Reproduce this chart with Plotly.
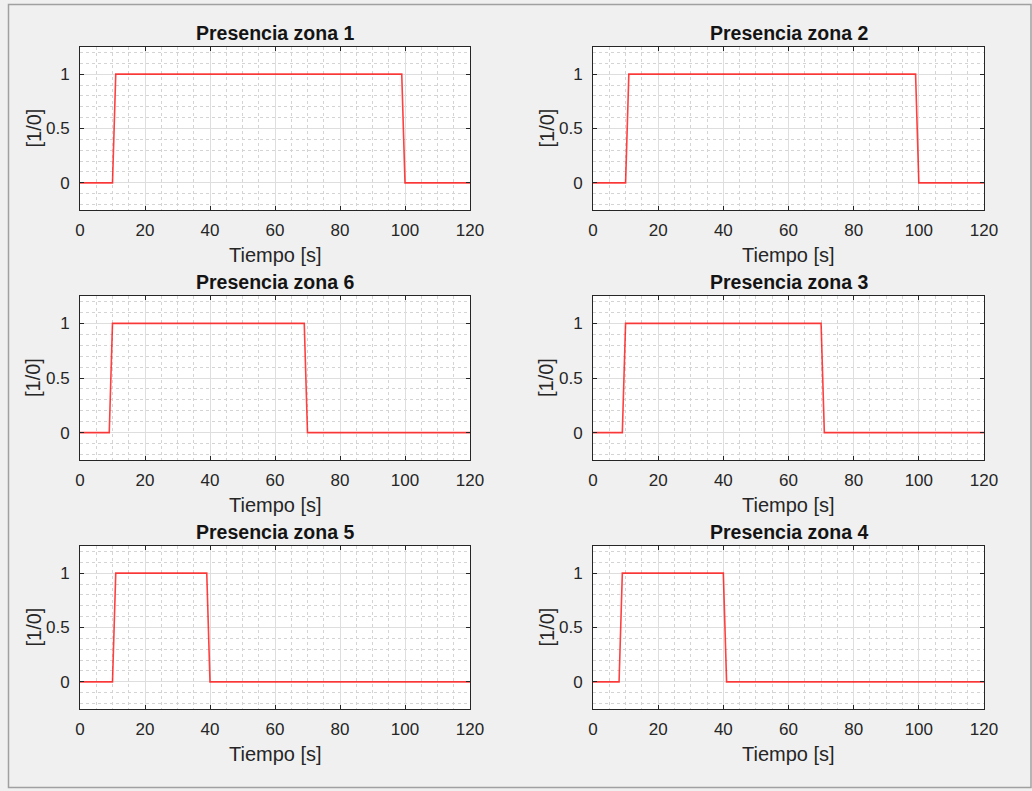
import plotly.graph_objects as go

# Occupancy signal for each zone: breakpoints (time in s, state 1/0)
zone_titles = ["Presencia zona 1", "Presencia zona 2",
               "Presencia zona 6", "Presencia zona 3",
               "Presencia zona 5", "Presencia zona 4"]

t_zona1 = [0, 10, 11, 99, 100, 120]
v_zona1 = [0, 0, 1, 1, 0, 0]
t_zona2 = [0, 10, 11, 99, 100, 120]
v_zona2 = [0, 0, 1, 1, 0, 0]
t_zona6 = [0, 9, 10, 69, 70, 120]
v_zona6 = [0, 0, 1, 1, 0, 0]
t_zona3 = [0, 9, 10, 70, 71, 120]
v_zona3 = [0, 0, 1, 1, 0, 0]
t_zona5 = [0, 10, 11, 39, 40, 120]
v_zona5 = [0, 0, 1, 1, 0, 0]
t_zona4 = [0, 8, 9, 40, 41, 120]
v_zona4 = [0, 0, 1, 1, 0, 0]

series = [(t_zona1, v_zona1), (t_zona2, v_zona2),
          (t_zona6, v_zona6), (t_zona3, v_zona3),
          (t_zona5, v_zona5), (t_zona4, v_zona4)]

x_ticks = [0, 20, 40, 60, 80, 100, 120]
y_ticks = [0, 0.5, 1]
y_tick_text = ["0", "0.5", "1"]
x_label = "Tiempo [s]"
y_label = "[1/0]"

W, H = 1032, 791
col_px = [(80, 470), (593, 984)]
row_px = [(47, 210), (296, 460), (546, 709)]

FONT = "Liberation Sans, Arial, Helvetica, sans-serif"
AX = "#262626"

fig = go.Figure()
layout = dict(
    width=W, height=H, margin=dict(l=0, r=0, t=0, b=0),
    paper_bgcolor="#f0f0f0", plot_bgcolor="white",
    showlegend=False, font=dict(family=FONT, color=AX),
)
annotations = []

for i, ((t, v), title) in enumerate(zip(series, zone_titles)):
    r, c = divmod(i, 2)
    n = "" if i == 0 else str(i + 1)
    x0, x1 = col_px[c]
    y0, y1 = row_px[r]
    fig.add_trace(go.Scatter(
        x=t, y=v, mode="lines", xaxis="x" + n, yaxis="y" + n,
        line=dict(color="rgba(255,0,0,0.75)", width=1.6),
        hoverinfo="skip",
    ))
    common = dict(
        showline=True, linecolor=AX, linewidth=1, mirror="ticks",
        ticks="inside", ticklen=4, tickcolor=AX, tickwidth=1,
        showgrid=True, gridcolor="#dedede", gridwidth=1,
        zeroline=False, automargin=False,
        tickfont=dict(size=17, color=AX, family=FONT),
    )
    layout["xaxis" + n] = dict(
        common, domain=[x0 / W, x1 / W], anchor="y" + n,
        range=[0, 120], tickvals=x_ticks,
        minor=dict(dtick=5, showgrid=True, gridcolor="#d4d4d4",
                   griddash="dot", ticks=""),
        ticklabelstandoff=5,
    )
    layout["yaxis" + n] = dict(
        common, domain=[1 - y1 / H, 1 - y0 / H], anchor="x" + n,
        range=[-0.25, 1.25], tickvals=y_ticks, ticktext=y_tick_text,
        minor=dict(dtick=0.1, tick0=0, showgrid=True, gridcolor="#d4d4d4",
                   griddash="dot", ticks=""),
        ticklabelstandoff=6,
    )
    # subplot title
    annotations.append(dict(
        text="<b>" + title + "</b>", xref="paper", yref="paper",
        x=(x0 + x1) / 2 / W, y=1 - (y0 - 1) / H,
        xanchor="center", yanchor="bottom", showarrow=False,
        font=dict(size=19.5, color="#141414", family=FONT),
    ))
    # x axis label
    annotations.append(dict(
        text=x_label, xref="paper", yref="paper",
        x=(x0 + x1) / 2 / W, y=1 - 255 / H - (y1 - 210) / H,
        xanchor="center", yanchor="middle", showarrow=False,
        font=dict(size=20, color=AX, family=FONT),
    ))
    # y axis label
    annotations.append(dict(
        text=y_label, xref="paper", yref="paper",
        x=(x0 - 47) / W, y=1 - (y0 + y1) / 2 / H,
        xanchor="center", yanchor="middle", showarrow=False, textangle=-90,
        font=dict(size=20, color=AX, family=FONT),
    ))

layout["annotations"] = annotations
layout["shapes"] = [dict(
    type="rect", xref="paper", yref="paper",
    x0=8.5 / W, x1=1031 / W, y0=1 - 787.5 / H, y1=1 - 4.5 / H,
    line=dict(color="#a0a0a0", width=1.5), layer="below",
)]
fig.update_layout(**layout)
fig.write_html("out.html")
